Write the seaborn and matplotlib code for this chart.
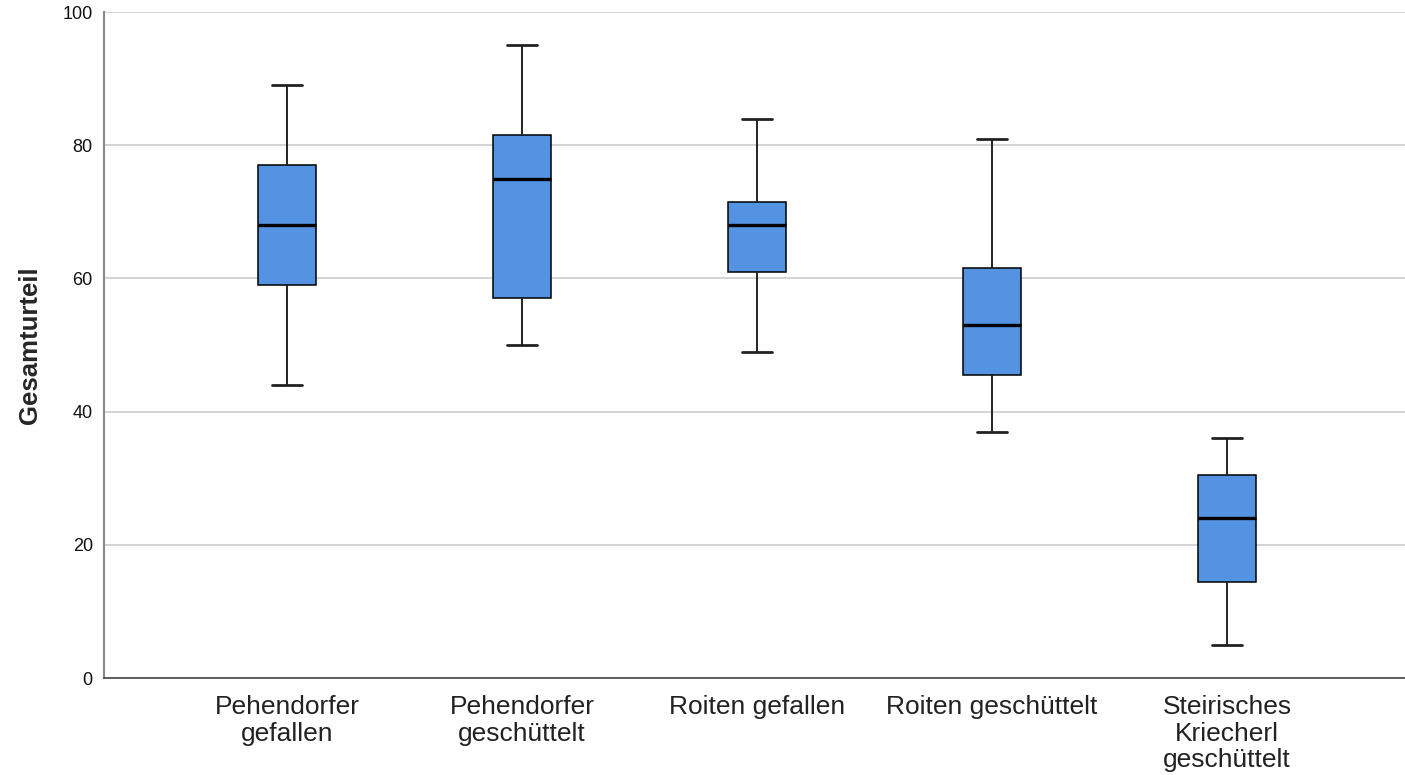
import numpy as np
import pandas as pd
import matplotlib
matplotlib.use("Agg")
import matplotlib.pyplot as plt
import seaborn as sns

# five-number summaries (min, Q1, median, Q3, max)
categories = [
    "Pehendorfer\ngefallen",
    "Pehendorfer\ngeschüttelt",
    "Roiten gefallen",
    "Roiten geschüttelt",
    "Steirisches\nKriecherl\ngeschüttelt",
]
pehendorfer_gefallen = [44, 59, 68, 77, 89]
pehendorfer_geschuettelt = [50, 57, 75, 81.5, 95]
roiten_gefallen = [49, 61, 68, 71.5, 84]
roiten_geschuettelt = [37, 45.5, 53, 61.5, 81]
steirisches_kriecherl = [5, 14.5, 24, 30.5, 36]
y_ticks = [0, 20, 40, 60, 80, 100]

series = [pehendorfer_gefallen, pehendorfer_geschuettelt, roiten_gefallen,
          roiten_geschuettelt, steirisches_kriecherl]
df = pd.DataFrame({
    "Sorte": np.repeat(categories, [len(s) for s in series]),
    "Gesamturteil": np.concatenate(series),
})

sns.set_style("white")
plt.rcParams["font.family"] = ["Liberation Sans", "DejaVu Sans"]

fig = plt.figure(figsize=(14.05, 7.75), dpi=100)
ax = fig.add_axes([0.074, 0.125, 0.926, 0.8595])

ax.yaxis.grid(True, color="#cccccc", linewidth=1.2)
ax.set_axisbelow(True)

sns.boxplot(data=df, x="Sorte", y="Gesamturteil", order=categories,
            color="#5393e2", saturation=1, width=0.25, whis=1.5,
            linecolor="black", linewidth=1.1,
            medianprops=dict(color="black", linewidth=2.4),
            whiskerprops=dict(color="#222222", linewidth=1.4),
            capprops=dict(color="#222222", linewidth=2.0),
            ax=ax)

ax.set_ylim(0, 100)
ax.set_xlim(-0.779, 4.757)
ax.set_yticks(y_ticks)
ax.set_yticklabels([str(t) for t in y_ticks], fontsize=13, color="#111111")
ax.tick_params(axis="x", labelsize=19, length=0, pad=12, colors="#222222")
ax.tick_params(axis="y", length=0, pad=8)
for lbl in ax.get_xticklabels():
    lbl.set_linespacing(1.15)
    lbl.set_verticalalignment("top")

ax.set_xlabel("")
ax.set_ylabel("Gesamturteil", fontsize=18.5, fontweight="bold", labelpad=15)

for side in ["top", "right"]:
    ax.spines[side].set_visible(False)
ax.spines["left"].set_color("#888888")
ax.spines["left"].set_linewidth(1.5)
ax.spines["bottom"].set_color("#444444")
ax.spines["bottom"].set_linewidth(1.2)

fig.savefig("out.png", dpi=100)
